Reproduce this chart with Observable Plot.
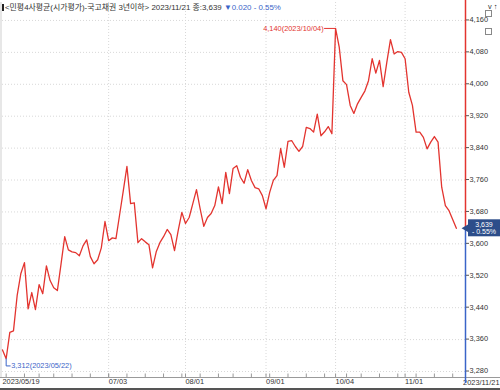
<!DOCTYPE html>
<html>
<head>
<meta charset="utf-8">
<script src="https://cdn.jsdelivr.net/npm/d3@7"></script>
<script src="https://cdn.jsdelivr.net/npm/@observablehq/plot@0.6"></script>
<style>
  html, body { margin: 0; padding: 0; background: #fff; }
  #wrap { position: relative; width: 500px; height: 390px; overflow: hidden; }
  #wrap svg { display: block; border-bottom: 2px solid #555; }
  #hdr { position: absolute; top: 2px; left: 2px; font: 7.9px "Liberation Sans", "Noto Sans CJK KR", sans-serif; color: #333; white-space: nowrap; line-height: 11px; }
  #hdr .bar { display: inline-block; width: 2px; height: 7px; background: #222; margin-right: 1px; vertical-align: -1px; }
  #hdr .chg { color: #3a64c8; }
  #icons { position: absolute; top: 3px; left: 485px; }
  #icons span { display: inline-block; width: 5px; height: 5px; border: 1px solid #888; margin-right: 1px; background: #fff; }
</style>
</head>
<body>
<div id="wrap">
  <div id="hdr"><span class="bar"></span>&lt;민평4사평균(시가평가)-국고채권 3년이하&gt; 2023/11/21 종:3,639 <span class="chg">▼0.020 - 0.55%</span></div>
  <div id="icons"><span></span><span></span></div>
</div>
<script>
// ---- data ----
const dates = [
  "05/19","05/22","05/23","05/24","05/25","05/26","05/30","05/31",
  "06/01","06/02","06/05","06/07","06/08","06/09","06/12","06/13","06/14","06/15","06/16","06/19","06/20","06/21","06/22","06/23","06/26","06/27","06/28","06/29","06/30",
  "07/03","07/04","07/05","07/06","07/07","07/10","07/11","07/12","07/13","07/14","07/17","07/18","07/19","07/20","07/21","07/24","07/25","07/26","07/27","07/28","07/31",
  "08/01","08/02","08/03","08/04","08/07","08/08","08/09","08/10","08/11","08/14","08/16","08/17","08/18","08/21","08/22","08/23","08/24","08/25","08/28","08/29","08/30","08/31",
  "09/01","09/04","09/05","09/06","09/07","09/08","09/11","09/12","09/13","09/14","09/15","09/18","09/19","09/20","09/21","09/22","09/25","09/26","09/27",
  "10/04","10/05","10/06","10/10","10/11","10/12","10/13","10/16","10/17","10/18","10/19","10/20","10/23","10/24","10/25","10/26","10/27","10/30","10/31",
  "11/01","11/02","11/03","11/06","11/07","11/08","11/09","11/10","11/13","11/14","11/15","11/16","11/17","11/20","11/21"
];
const values = [
  3334,3312,3378,3382,3470,3525,3553,3437,3478,3435,
  3498,3475,3545,3508,3490,3483,3550,3618,3585,3580,
  3578,3570,3595,3610,3568,3550,3560,3590,3656,3608,
  3615,3613,3673,3733,3794,3701,3703,3603,3613,3605,
  3598,3540,3580,3603,3618,3636,3623,3583,3633,3679,
  3651,3666,3701,3736,3688,3644,3666,3676,3696,3743,
  3701,3779,3726,3789,3796,3767,3752,3786,3759,3741,
  3738,3721,3688,3729,3759,3771,3839,3792,3857,3859,
  3844,3832,3844,3892,3889,3880,3925,3871,3881,3894,
  3876,4140,4093,4009,3999,3947,3927,3951,3967,3983,
  4009,4064,4028,4060,3994,4055,4112,4076,4082,4080,
  4064,3980,3947,3880,3880,3867,3838,3855,3869,3855,
  3742,3696,3683,3661,3639
];
const yTicks = [3280,3360,3440,3520,3600,3680,3760,3840,3920,4000,4080,4160];
const monthTickDates = ["07/03","08/01","09/01","10/04","11/01"];
const firstLabel = "2023/05/19";
const lastLabel = "2023/11/21";
const maxLabel = "4,140(2023/10/04)";
const minLabel = "3,312(2023/05/22)";
const boxLabel = "3,639\n- 0.55%";

// ---- derived ----
const data = values.map((v, i) => ({i, v, date: dates[i]}));
const W = 500, H = 388, mL = 2, mR = 35, mT = 2, mB = 11;
const xMax = 126.5;
const yDom = [3265, 4205];
const ux = xMax / (W - mL - mR);
const uy = (yDom[1] - yDom[0]) / (H - mT - mB);
const monthIdx = monthTickDates.map(d => dates.indexOf(d));
const monthTicks = monthTickDates.map((d, k) => ({i: monthIdx[k], label: d}));
const weekIdx = data.filter((d, k) => k > 0 && new Date("2023/" + d.date).getDay() < new Date("2023/" + dates[k - 1]).getDay()).map(d => d.i);
const iMax = d3.maxIndex(values), iMin = d3.minIndex(values);
const last = data[data.length - 1];

const RED = "#e3342f", BLUE = "#3a64c8", NAVY = "#2c4d8a";
const FS = 7.4;

const chart = Plot.plot({
  width: W, height: H,
  marginLeft: mL, marginRight: mR, marginTop: mT, marginBottom: mB,
  x: {domain: [0, xMax], axis: null},
  y: {domain: yDom, axis: null},
  style: {fontFamily: "'Liberation Sans', 'Noto Sans CJK KR', sans-serif", fontSize: FS + "px", background: "#fff", color: "#333", overflow: "visible"},
  marks: [
    Plot.ruleY(yTicks, {stroke: "#d8d8d8", strokeDasharray: "1,2"}),
    Plot.ruleX(monthIdx, {stroke: "#d8d8d8", strokeDasharray: "1,2"}),
    Plot.ruleX([0], {stroke: "#cfcfcf", dx: -1.5}),
    Plot.ruleY([yDom[0]], {x1: -mL * ux, x2: xMax + mR * ux, stroke: "#9a9a9a"}),
    Plot.ruleX(weekIdx, {y1: yDom[0], y2: yDom[0] + 3.5 * uy, stroke: "#999"}),
    Plot.ruleX(monthIdx, {y1: yDom[0], y2: yDom[0] + 3.5 * uy, stroke: "#999"}),
    Plot.text(monthTicks, {x: "i", text: "label", frameAnchor: "bottom", textAnchor: "start", dy: 6.5, fill: "#333", fontSize: FS}),
    Plot.text([firstLabel], {x: 0, text: d => d, frameAnchor: "bottom", textAnchor: "start", dy: 6.5, fill: "#333", fontSize: FS}),
    Plot.text([lastLabel], {frameAnchor: "bottom-right", text: d => d, textAnchor: "end", dx: mR - 1, dy: 7, fill: "#333", fontSize: FS}),
    Plot.ruleX([xMax], {y1: last.v, y2: yDom[1] + mT * uy, stroke: RED, strokeWidth: 1.5}),
    Plot.ruleX([xMax], {y1: yDom[0] - 6 * uy, y2: last.v, stroke: BLUE, strokeWidth: 1.5}),
    Plot.axisY({anchor: "right", ticks: yTicks, tickFormat: d3.format(","), tickSize: 3, tickPadding: 1, fontSize: FS, stroke: "#555", dy: -0.5}),
    Plot.line(data, {x: "i", y: "v", stroke: RED, strokeWidth: 1.3}),
    Plot.ruleY([values[iMax]], {x1: iMax - 3, x2: iMax, stroke: RED, strokeWidth: 1}),
    Plot.text([maxLabel], {x: iMax - 3, y: values[iMax], text: d => d, textAnchor: "end", dx: -1, fill: RED, fontSize: FS}),
    Plot.line([[iMin, values[iMin]], [iMin, values[iMin] - 18], [iMin + 1.1, values[iMin] - 18]], {stroke: BLUE, strokeWidth: 1}),
    Plot.text([minLabel], {x: iMin + 1.1, y: values[iMin] - 18, text: d => d, textAnchor: "start", dx: 1, fill: BLUE, fontSize: FS}),
    Plot.rect([last], {x1: xMax + 3 * ux, x2: xMax + mR * ux, y1: d => d.v - 8.5 * uy, y2: d => d.v + 8.5 * uy, fill: NAVY}),
    Plot.dot([last], {x: xMax + 3.2 * ux, y: "v", symbol: "triangle", r: 4.6, rotate: -90, fill: NAVY}),
    Plot.text([last], {x: xMax + 18.5 * ux, y: "v", text: () => boxLabel, fill: "#fff", lineHeight: 1.05, fontSize: 7})
  ]
});
document.getElementById("wrap").prepend(chart);
</script>
</body>
</html>
